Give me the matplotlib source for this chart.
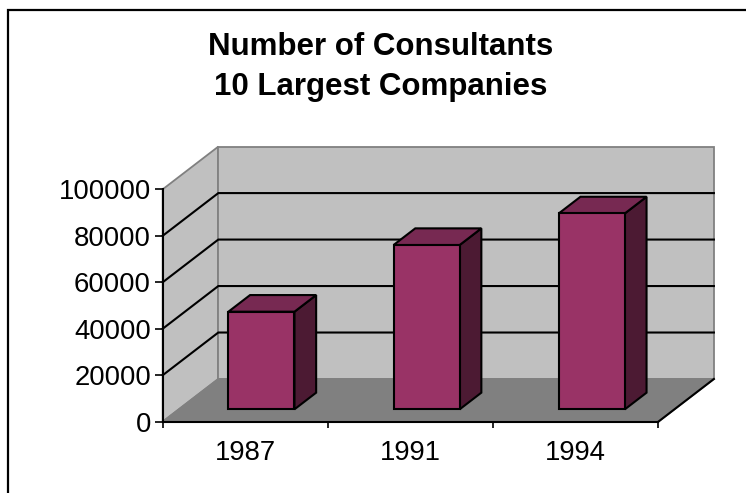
import matplotlib
matplotlib.use("Agg")
import matplotlib.pyplot as plt
from matplotlib.patches import Polygon, Rectangle

# ---- data ----
years = ["1987", "1991", "1994"]
consultants = [42000, 70700, 84300]
yticks = [0, 20000, 40000, 60000, 80000, 100000]
title_lines = ["Number of Consultants", "10 Largest Companies"]

# ---- style ----
FRONT = "#993366"
TOP = "#772952"
SIDE = "#4C1A33"
WALL = "#C0C0C0"
FLOOR = "#808080"
EDGE = "#808080"

W, H, DPI = 746, 493, 100
plt.rcParams['font.family'] = ['Liberation Sans', 'DejaVu Sans']

fig = plt.figure(figsize=(W / DPI, H / DPI), dpi=DPI)
fig.patch.set_facecolor("white")

# front plane of the plot (pixels from top-left)
x0p, x1p = 162.7, 658.3
y0p, y1p = 421.7, 189.3
ax = fig.add_axes([x0p / W, (H - y0p) / H, (x1p - x0p) / W, (y0p - y1p) / H])
ax.set_xlim(0, len(years))
ax.set_ylim(0, 100000)
ax.patch.set_visible(False)

# depth vector (full depth) in data units
px_per_x = (x1p - x0p) / len(years)
px_per_y = (y0p - y1p) / 100000
DX = 55.6 / px_per_x
DY = 42.7 / px_per_y
n = len(years)
ymax = 100000

# walls and floor
ax.add_patch(Polygon([(0, 0), (DX, DY), (DX, ymax + DY), (0, ymax)], closed=True,
                     facecolor=WALL, edgecolor=EDGE, lw=1.3, clip_on=False, zorder=1))
ax.add_patch(Polygon([(DX, DY), (n + DX, DY), (n + DX, ymax + DY), (DX, ymax + DY)], closed=True,
                     facecolor=WALL, edgecolor=EDGE, lw=1.3, clip_on=False, zorder=1))
ax.add_patch(Polygon([(0, 0), (n, 0), (n + DX, DY), (DX, DY)], closed=True,
                     facecolor=FLOOR, edgecolor=EDGE, lw=1.3, clip_on=False, zorder=1))
ax.plot([n, n + DX], [0, DY], color="black", lw=1.5, clip_on=False, zorder=2)

# gridlines
for v in yticks[1:-1]:
    ax.plot([0, DX, n + DX], [v, v + DY, v + DY], color="black", lw=1.5,
            clip_on=False, zorder=2, solid_joinstyle="miter")

# bars
z0, z1 = 0.29, 0.68
gap = 0.3
bw = 1 - 2 * gap
d = z1 - z0
for i, v in enumerate(consultants):
    xl = i + gap + z0 * DX
    xr = xl + bw
    yb = z0 * DY
    yt = yb + v
    ax.add_patch(Polygon([(xr, yb), (xr + d * DX, yb + d * DY), (xr + d * DX, yt + d * DY), (xr, yt)],
                         closed=True, facecolor=SIDE, edgecolor="black", lw=1.5,
                         clip_on=False, zorder=3, joinstyle="miter"))
    ax.add_patch(Polygon([(xl, yt), (xr, yt), (xr + d * DX, yt + d * DY), (xl + d * DX, yt + d * DY)],
                         closed=True, facecolor=TOP, edgecolor="black", lw=1.5,
                         clip_on=False, zorder=3, joinstyle="miter"))
    ax.add_patch(Rectangle((xl, yb), bw, v, facecolor=FRONT, edgecolor="black", lw=1.5,
                           clip_on=False, zorder=4, joinstyle="miter"))

# axes
for s in ["top", "right"]:
    ax.spines[s].set_visible(False)
for s in ["left", "bottom"]:
    ax.spines[s].set_color("black")
    ax.spines[s].set_linewidth(1.5)
    ax.spines[s].set_zorder(5)
ax.set_yticks(yticks)
ax.set_yticklabels([str(t) for t in yticks], fontsize=19.8)
ax.set_xticks(range(n + 1))
ax.set_xticklabels([""] * (n + 1))
ax.set_xticks([i + 0.5 for i in range(n)], minor=True)
ax.set_xticklabels(years, minor=True, fontsize=19.8)
ax.tick_params(axis="y", which="major", direction="out", length=6, width=1.2, pad=2.5)
ax.tick_params(axis="x", which="major", direction="out", length=4, width=1.2)
ax.tick_params(axis="x", which="minor", length=0, pad=13)

# title
fig.text(381 / W, 1 - 47 / H, title_lines[0], ha="center", va="center",
         fontsize=22.5, fontweight="bold")
fig.text(381 / W, 1 - 86.5 / H, title_lines[1], ha="center", va="center",
         fontsize=22.5, fontweight="bold")

# chart border
fig.patches.append(Rectangle((8 / W, -0.1), 1.2, 1 - 10 / H + 0.1, transform=fig.transFigure,
                             fill=False, edgecolor="black", lw=1.6, zorder=10))

fig.savefig("out.png", dpi=DPI)
